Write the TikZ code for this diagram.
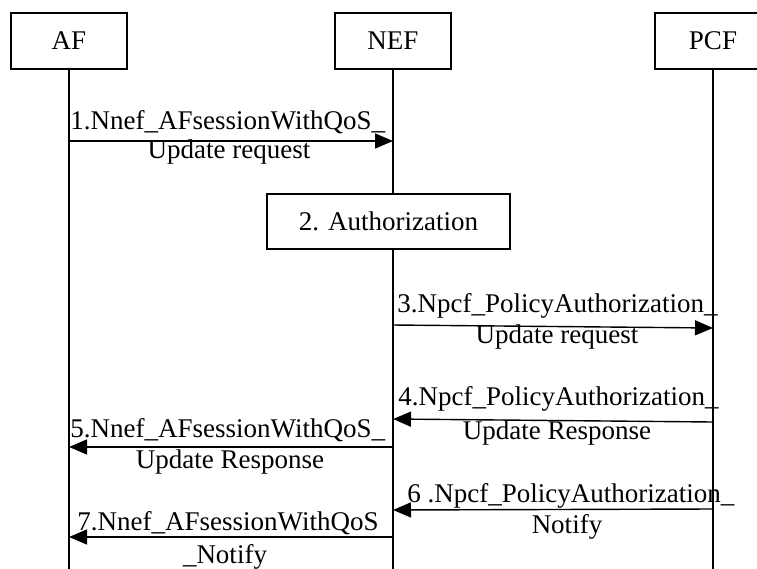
\documentclass[tikz,border=0pt]{standalone}
\usepackage{fontspec}
\setmainfont{Liberation Serif}
\usetikzlibrary{arrows.meta}
\begin{document}
\begin{tikzpicture}[x=0.5pt,y=-0.5pt,
  entity/.style={draw,line width=0.6pt,fill=white,minimum width=58pt,minimum height=28pt,inner sep=0pt,font=\fontsize{13.5}{16}\selectfont},
  lbl/.style={inner sep=0pt,font=\fontsize{13.5}{16}\selectfont},
  msg/.style={line width=0.7pt,-{Triangle[length=9pt,width=7.5pt]}},
  life/.style={line width=0.6pt}]
  \useasboundingbox (0,0) rectangle (757,569);
  % entities and lifelines
  \node[entity] (af) at (69,41) {AF};
  \node[entity] (nef) at (393,41) {NEF};
  \node[entity] (pcf) at (713,41) {PCF};
  \coordinate (afend) at (69,569);
  \coordinate (nefend) at (393,569);
  \coordinate (pcfend) at (713,569);
  \draw[life] (af) -- (afend);
  \draw[life] (nef) -- (nefend);
  \draw[life] (pcf) -- (pcfend);
  % points on the lifelines
  \coordinate (af1) at (69,141);   \coordinate (nef1) at (393,141);
  \coordinate (nef3) at (393,325); \coordinate (pcf3) at (713,328);
  \coordinate (pcf4) at (713,422); \coordinate (nef4) at (393,419);
  \coordinate (nef5) at (393,447); \coordinate (af5) at (69,447);
  \coordinate (pcf6) at (713,509); \coordinate (nef6) at (393,510);
  \coordinate (nef7) at (393,537); \coordinate (af7) at (69,537);
  % 1
  \draw[msg] (af1) -- (nef1);
  \node[lbl,anchor=base west] (m1a) at (70,129) {1.Nnef\_AFsessionWithQoS\_};
  \node[lbl,anchor=base] (m1b) at (229,158) {Update request};
  % 2
  \node[entity,minimum width=121.5pt,minimum height=27.5pt] (auth) at (388.5,221.5) {2. Authorization};
  % 3
  \draw[msg] (nef3) -- (pcf3);
  \node[lbl,anchor=base west] (m3a) at (397,312) {3.Npcf\_PolicyAuthorization\_};
  \node[lbl,anchor=base] (m3b) at (557,343) {Update request};
  % 4
  \draw[msg] (pcf4) -- (nef4);
  \node[lbl,anchor=base west] (m4a) at (398,405) {4.Npcf\_PolicyAuthorization\_};
  \node[lbl,anchor=base] (m4b) at (557,439) {Update Response};
  % 5
  \draw[msg] (nef5) -- (af5);
  \node[lbl,anchor=base west] (m5a) at (70,437) {5.Nnef\_AFsessionWithQoS\_};
  \node[lbl,anchor=base] (m5b) at (230,468) {Update Response};
  % 6
  \draw[msg] (pcf6) -- (nef6);
  \node[lbl,anchor=base west] (m6a) at (407,502) {6 .Npcf\_PolicyAuthorization\_};
  \node[lbl,anchor=base] (m6b) at (567,533) {Notify};
  % 7
  \draw[msg] (nef7) -- (af7);
  \node[lbl,anchor=base west] (m7a) at (77,530) {7.Nnef\_AFsessionWithQoS};
  \node[lbl,anchor=base] (m7b) at (225,563) {\_Notify};
\end{tikzpicture}
\end{document}
